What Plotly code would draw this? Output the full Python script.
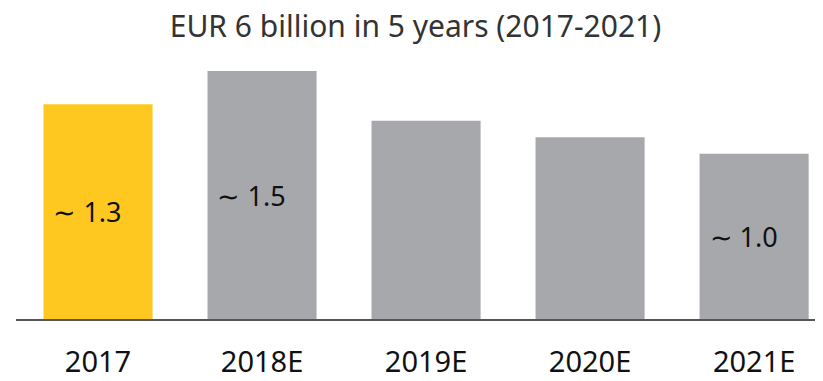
import plotly.graph_objects as go

# Investment per year, EUR billion
years = ['2017', '2018E', '2019E', '2020E', '2021E']
values = [1.3, 1.5, 1.2, 1.1, 1.0]
labels = ['∼ 1.3', '∼ 1.5', '', '', '∼ 1.0']
colors = ['#FFC820', '#A7A8AC', '#A7A8AC', '#A7A8AC', '#A7A8AC']

# the page body has an 8px margin, so the figure is sized 8px smaller
pad = '\u00a0' * 3
fig = go.Figure(go.Bar(
    x=years,
    y=values,
    text=[t + pad if t else t for t in labels],
    textposition='inside',
    insidetextanchor='middle',
    textangle=0,
    textfont=dict(size=27, color='#111111', family='Noto Sans'),
    marker=dict(color=colors, line=dict(width=0)),
    hoverinfo='skip',
))

fig.update_layout(
    width=815,
    height=373,
    margin=dict(l=8, r=0, t=52, b=62),
    paper_bgcolor='white',
    plot_bgcolor='white',
    bargap=0.335,
    showlegend=False,
    title=dict(
        text='EUR 6 billion in 5 years (2017-2021)',
        x=0.5,
        xanchor='center',
        y=0.95,
        yanchor='middle',
        font=dict(size=30, color='#333333', family='Noto Sans'),
    ),
    uniformtext=dict(minsize=24, mode='show'),
)

fig.update_xaxes(
    range=[-0.5, 4.42],
    showline=True,
    linecolor='#555555',
    linewidth=2,
    showgrid=False,
    ticks='outside',
    ticklen=16,
    tickcolor='rgba(0,0,0,0)',
    tickfont=dict(size=29, color='#111111', family='Noto Sans'),
)
fig.update_yaxes(
    range=[0, 1.567],
    visible=False,
    showgrid=False,
    zeroline=False,
)

fig.write_html('out.html')
